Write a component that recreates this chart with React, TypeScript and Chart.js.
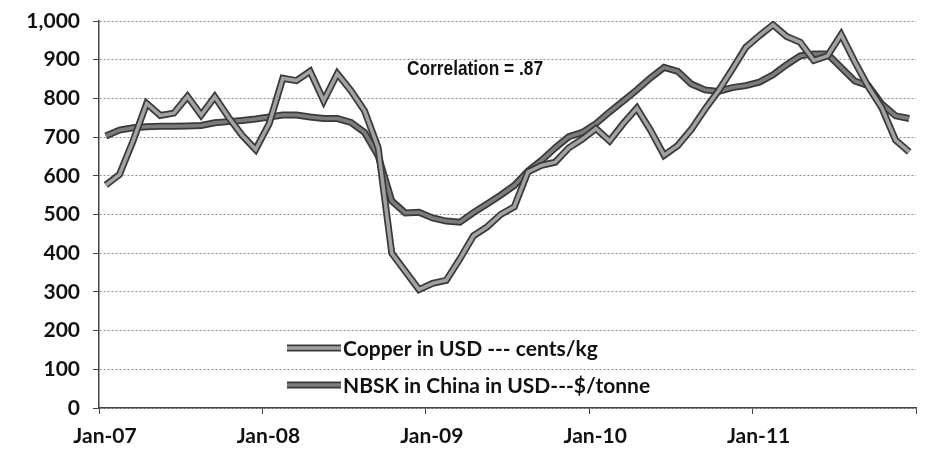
import React, { useEffect, useRef } from "react";
import { Chart, registerables } from "chart.js";

Chart.register(...registerables);

// ---- Data ----
const xTickLabels = ["Jan-07", "Jan-08", "Jan-09", "Jan-10", "Jan-11"];
const seriesLabels = ["Copper in USD --- cents/kg", "NBSK in China in USD---$/tonne"];
const annotationText = "Correlation = .87";

// monthly, Jan-07 .. Dec-11
const copper = [
  576, 603, 690, 787, 756, 762, 805, 757, 804, 752, 705, 668,
  735, 852, 846, 870, 794, 864, 820, 768, 673, 400, 353, 306,
  322, 330, 385, 445, 468, 500, 520, 610, 627, 635, 672, 695,
  722, 690, 735, 775, 718, 653, 678, 720, 772, 820, 875, 932,
  962, 990, 960, 945, 898, 910, 965, 895, 830, 775, 692, 662,
];
const nbsk = [
  703, 718, 724, 727, 728, 728, 729, 730, 737, 740, 743, 747,
  752, 757, 757, 752, 748, 748, 738, 712, 652, 535, 504, 506,
  491, 483, 480, 505, 527, 550, 575, 612, 640, 672, 701, 712,
  735, 765, 793, 822, 853, 880, 870, 837, 822, 818, 828, 833,
  842, 861, 887, 910, 915, 915, 880, 845, 833, 785, 755, 748,
];

const toPoints = (arr: number[]) => arr.map((v, i) => ({ x: i + 0.5, y: v }));

const OUTLINE = "#3a3a3a";
const COPPER_IN = "#a2a2a2";
const NBSK_IN = "#7c7c7c";
const LABEL_FONT = 'Lato, "Open Sans", sans-serif';

const overlayPlugin = {
  id: "overlay",
  afterDatasetsDraw(chart: any) {
    const ctx = chart.ctx;
    const area = chart.chartArea;
    ctx.save();
    // annotation (bold face, condensed to match the reference)
    ctx.fillStyle = "#111";
    ctx.font = 'bold 21px "Liberation Sans", Arial, sans-serif';
    ctx.textAlign = "left";
    ctx.textBaseline = "middle";
    const w = ctx.measureText(annotationText).width;
    const target = 136;
    ctx.save();
    ctx.translate(407, 69);
    ctx.scale(target / w, 1);
    ctx.fillText(annotationText, 0, 0);
    ctx.restore();

    // legend
    const items = [
      { label: seriesLabels[0], inner: COPPER_IN, y: 348 },
      { label: seriesLabels[1], inner: NBSK_IN, y: 385 },
    ];
    items.forEach((it) => {
      const x0 = area.left + 188;
      const x1 = area.left + 242;
      ctx.lineCap = "butt";
      ctx.beginPath();
      ctx.moveTo(x0, it.y);
      ctx.lineTo(x1, it.y);
      ctx.strokeStyle = OUTLINE;
      ctx.lineWidth = 7;
      ctx.stroke();
      ctx.beginPath();
      ctx.moveTo(x0, it.y);
      ctx.lineTo(x1, it.y);
      ctx.strokeStyle = it.inner;
      ctx.lineWidth = 3.5;
      ctx.stroke();
      ctx.fillStyle = "#111";
      ctx.font = "bold 21px " + LABEL_FONT;
      ctx.textAlign = "left";
      ctx.textBaseline = "middle";
      ctx.fillText(it.label, x1 + 2, it.y + 1);
    });
    ctx.restore();
  },
};

export default function App() {
  const ref = useRef<HTMLCanvasElement>(null);

  useEffect(() => {
    if (!ref.current) return;
    const line = (label: string, data: number[], color: string, width: number, order: number) => ({
      label,
      data: toPoints(data),
      borderColor: color,
      borderWidth: width,
      pointRadius: 0,
      tension: 0,
      order,
    });
    const chart = new Chart(ref.current, {
      type: "line",
      data: {
        datasets: [
          line(seriesLabels[1] + " outline", nbsk, OUTLINE, 7, 4),
          line(seriesLabels[1], nbsk, NBSK_IN, 3.5, 3),
          line(seriesLabels[0] + " outline", copper, OUTLINE, 7, 2),
          line(seriesLabels[0], copper, COPPER_IN, 3.5, 1),
        ],
      },
      options: {
        animation: false,
        responsive: false,
        devicePixelRatio: 1,
        layout: { padding: { top: 21, right: 9, left: 0, bottom: 0 } },
        plugins: { legend: { display: false }, tooltip: { enabled: false } },
        scales: {
          x: {
            type: "linear",
            min: 0,
            max: 60,
            afterBuildTicks: (s: any) => {
              s.ticks = [0, 12, 24, 36, 48, 60].map((v) => ({ value: v }));
            },
            afterFit: (s: any) => {
              s.height = 49;
            },
            ticks: {
              autoSkip: false,
              maxRotation: 0,
              padding: 10,
              labelOffset: 6,
              color: "#111",
              font: { family: LABEL_FONT, weight: "bold", size: 21 },
              callback: (v: any) => xTickLabels[Math.round(Number(v) / 12)] ?? "",
            },
            grid: {
              display: true,
              drawOnChartArea: false,
              drawTicks: true,
              tickLength: 6,
              tickColor: "#444",
            },
            border: { display: true, color: "#444", width: 1.5 },
          },
          y: {
            min: 0,
            max: 1000,
            afterFit: (s: any) => {
              s.width = 99;
              s.paddingTop = 0;
              s.paddingBottom = 0;
            },
            ticks: {
              stepSize: 100,
              padding: 13,
              color: "#111",
              font: { family: LABEL_FONT, weight: "bold", size: 21 },
              callback: (v: any) => Number(v).toLocaleString("en-US"),
            },
            grid: {
              color: "#8c8c8c",
              lineWidth: 1,
              tickColor: "#444",
              tickLength: 6,
              tickBorderDash: [],
            },
            border: { display: true, color: "#444", width: 1.5, dash: [2, 2] },
          },
        },
      },
      plugins: [overlayPlugin],
    });
    return () => chart.destroy();
  }, []);

  return (
    <div style={{ width: 926, height: 457, background: "#fff" }}>
      <style>{`body{margin:0;background:#fff}`}</style>
      <canvas ref={ref} width={926} height={457} />
    </div>
  );
}
